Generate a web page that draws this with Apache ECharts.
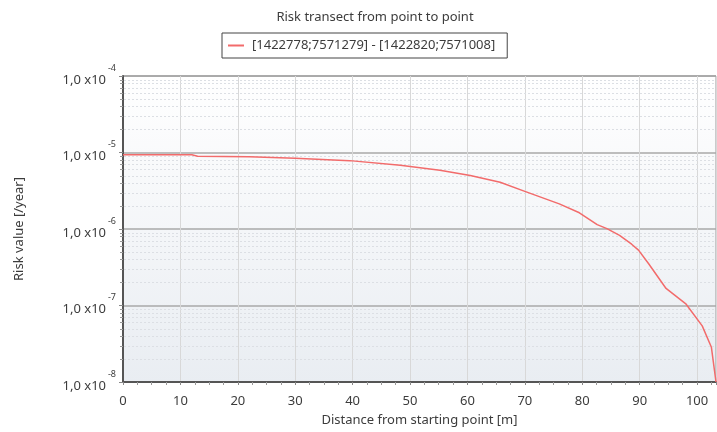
<!DOCTYPE html>
<html>
<head>
<meta charset="utf-8">
<script src="https://cdn.jsdelivr.net/npm/echarts@6/dist/echarts.min.js"></script>
<style>
  html, body { margin: 0; padding: 0; background: #ffffff; }
  #chart { width: 717px; height: 432px; }
</style>
</head>
<body>
<div id="chart"></div>
<script>
// Risk profile along the transect between the two points
const seriesName = '[1422778;7571279] - [1422820;7571008]';
const distances = [0, 12, 13, 22, 30, 39.5, 48.3, 55.2, 60.5, 65.7, 70, 76, 79.5, 82.6, 84.3, 86.5, 88.6, 89.8, 91.6, 94.6, 98.1, 100.9, 102.5, 103.3];
const riskValues = [9.35e-6, 9.35e-6, 8.95e-6, 8.8e-6, 8.43e-6, 7.83e-6, 6.81e-6, 5.87e-6, 5.02e-6, 4.08e-6, 3.10e-6, 2.13e-6, 1.63e-6, 1.14e-6, 1.01e-6, 8.24e-7, 6.33e-7, 5.29e-7, 3.49e-7, 1.67e-7, 1.04e-7, 5.41e-8, 2.84e-8, 1e-8];

// Axis ranges
const xMin = 0, xMax = 103.3, xStep = 10;
const yMin = 1e-8, yMax = 1e-4;
// Mantissas of the minor (log) grid lines within each decade
const minorMantissas = [2, 3, 4, 5, 6, 7, 8, 9];
const decadeExponents = [-8, -7, -6, -5];

const FONT = 'Noto Sans';
const TEXT = '#3c3c3c';
const BLANK = '\u200b';

const minorValues = [];
decadeExponents.forEach(function (e) {
  minorMantissas.forEach(function (m) {
    minorValues.push([xMin, m * Math.pow(10, e)]);
  });
});

const chart = echarts.init(document.getElementById('chart'), null, { renderer: 'canvas' });

// Shared settings of the two stacked log axes (mantissa text + exponent text)
function logAxis(extra) {
  return Object.assign({
    type: 'log',
    logBase: 10,
    min: yMin,
    max: yMax,
    position: 'left',
    gridIndex: 0
  }, extra);
}

chart.setOption({
  backgroundColor: '#ffffff',
  animation: false,
  title: {
    text: 'Risk transect from point to point',
    left: 370,
    textAlign: 'center',
    top: 6,
    textStyle: { fontFamily: FONT, fontSize: 13, fontWeight: 'normal', color: TEXT }
  },
  legend: {
    left: 222,
    top: 33,
    padding: [6, 12, 6, 6],
    borderColor: '#444444',
    borderWidth: 1,
    borderRadius: 0,
    icon: 'rect',
    itemWidth: 16,
    itemHeight: 2,
    itemGap: 6,
    textStyle: { fontFamily: FONT, fontSize: 13, color: TEXT, padding: [0, 0, 0, 3] },
    data: [seriesName]
  },
  grid: {
    left: 123,
    right: 1,
    top: 76,
    bottom: 45,
    show: true,
    borderColor: '#9a9a9a',
    borderWidth: 1,
    backgroundColor: new echarts.graphic.LinearGradient(0, 0, 0, 1, [
      { offset: 0, color: '#ffffff' },
      { offset: 1, color: '#e9edf2' }
    ])
  },
  xAxis: {
    type: 'value',
    min: xMin,
    max: xMax,
    interval: xStep,
    name: 'Distance from starting point [m]',
    nameLocation: 'middle',
    nameGap: 32,
    nameTextStyle: { fontFamily: FONT, fontSize: 13, color: TEXT },
    axisLine: { show: true, lineStyle: { color: '#555555', width: 2 } },
    axisTick: { show: true, length: 3, lineStyle: { color: '#888888' } },
    minorTick: { show: true, splitNumber: 4, length: 3, lineStyle: { color: '#999999' } },
    axisLabel: {
      fontFamily: FONT, fontSize: 13, color: TEXT, margin: 13,
      showMaxLabel: false
    },
    splitLine: { show: true, lineStyle: { color: '#d8d8d8', width: 1 } }
  },
  yAxis: [
    logAxis({
      name: 'Risk value [/year]',
      nameLocation: 'middle',
      nameGap: 97,
      nameTextStyle: { fontFamily: FONT, fontSize: 13, color: TEXT },
      axisLine: { show: true, lineStyle: { color: '#555555', width: 2 } },
      axisTick: { show: true, length: 4, lineStyle: { color: '#888888' } },
      axisLabel: {
        margin: 17,
        fontFamily: FONT, fontSize: 13, color: TEXT,
        lineHeight: 8,
        // empty first line pushes the mantissa slightly below the tick
        formatter: function () { return BLANK + '\n1,0 x10'; }
      },
      splitLine: { show: true, lineStyle: { color: '#a8a8a8', width: 1.5 } }
    }),
    logAxis({
      axisLine: { show: false },
      axisTick: { show: false },
      splitLine: { show: false },
      axisLabel: {
        margin: 7,
        fontFamily: FONT, fontSize: 9, color: TEXT,
        lineHeight: 16,
        // exponent sits on the upper line, raised above the tick
        formatter: function (v) { return String(Math.round(Math.log10(v))) + '\n' + BLANK; }
      }
    })
  ],
  series: [
    {
      // dotted minor grid lines and small ticks at 2..9 x 10^n
      type: 'custom',
      silent: true,
      clip: false,
      z: 1,
      data: minorValues,
      renderItem: function (params, api) {
        const cs = params.coordSys;
        const y = Math.round(api.coord([api.value(0), api.value(1)])[1]) + 0.5;
        return {
          type: 'group',
          children: [
            {
              type: 'line',
              shape: { x1: cs.x + 1, y1: y, x2: cs.x + cs.width, y2: y },
              style: { stroke: '#dcdfe4', lineWidth: 1, lineDash: [2, 2] }
            },
            {
              type: 'line',
              shape: { x1: cs.x - 3, y1: y, x2: cs.x, y2: y },
              style: { stroke: '#999999', lineWidth: 1 }
            }
          ]
        };
      }
    },
    {
      name: seriesName,
      type: 'line',
      data: distances.map(function (d, i) { return [d, riskValues[i]]; }),
      symbol: 'none',
      lineStyle: { color: '#f26b6b', width: 1.5 },
      itemStyle: { color: '#f26b6b' },
      z: 3
    }
  ]
});
</script>
</body>
</html>
